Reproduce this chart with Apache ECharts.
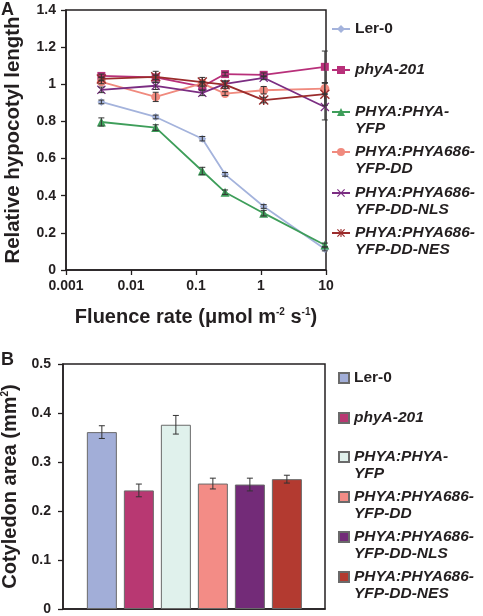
<!DOCTYPE html>
<html><head><meta charset="utf-8">
<script src="https://cdn.jsdelivr.net/npm/echarts@6/dist/echarts.min.js"></script>
<style>html,body{margin:0;padding:0;background:#fff}#c{width:483px;height:616px}</style>
</head><body><div id="c"></div>
<script>
// ---- Panel A data ----
var fluence = [0.0035, 0.024, 0.125, 0.28, 1.1, 9.6];
var seriesNamesA = ['Ler-0', 'phyA-201', 'PHYA:PHYA-YFP', 'PHYA:PHYA686-YFP-DD', 'PHYA:PHYA686-YFP-DD-NLS', 'PHYA:PHYA686-YFP-DD-NES'];
var ler0 = [0.905, 0.824, 0.707, 0.515, 0.342, 0.113];
var phyA201 = [1.045, 1.037, 0.988, 1.055, 1.051, 1.094];
var phyaYfp = [0.797, 0.767, 0.533, 0.419, 0.306, 0.135];
var dd = [1.013, 0.932, 1.005, 0.950, 0.968, 0.977];
var ddNls = [0.970, 0.992, 0.954, 1.002, 1.035, 0.878];
var ddNes = [1.029, 1.040, 1.012, 0.998, 0.915, 0.947];
var ler0Err = [0.01, 0.01, 0.012, 0.01, 0.01, 0.01];
var phyA201Err = [0.01, 0.012, 0.02, 0.01, 0.01, 0.085];
var phyaYfpErr = [0.022, 0.015, 0.02, 0.012, 0.015, 0.01];
var ddErr = [0.01, 0.025, 0.01, 0.01, 0.02, 0.03];
var ddNlsErr = [0.015, 0.02, 0.015, 0.015, 0.01, 0.07];
var ddNesErr = [0.01, 0.03, 0.025, 0.02, 0.015, 0.06];
// ---- Panel B data ----
var genotypes = ['Ler-0', 'phyA-201', 'PHYA:PHYA-YFP', 'PHYA:PHYA686-YFP-DD', 'PHYA:PHYA686-YFP-DD-NLS', 'PHYA:PHYA686-YFP-DD-NES'];
var cotyledonArea = [0.361, 0.242, 0.376, 0.256, 0.254, 0.265];
var cotyledonErr = [0.013, 0.013, 0.019, 0.011, 0.013, 0.008];
// legend labels (with line breaks as in the figure)
var legendLabels = ['Ler-0', 'phyA-201', 'PHYA:PHYA-\nYFP', 'PHYA:PHYA686-\nYFP-DD', 'PHYA:PHYA686-\nYFP-DD-NLS', 'PHYA:PHYA686-\nYFP-DD-NES'];

var FONT = 'Liberation Sans, Arial, sans-serif';
var lineColors = ['#a4b3dc', '#b8307a', '#3e9e5a', '#f08a7e', '#7b2d82', '#9b2c2c'];
var barColors = ['#a2aed8', '#b83872', '#e0f1ec', '#f38c86', '#732b78', '#b33a30'];
var xPath = 'path://M0,1 L1,0 L5,4 L9,0 L10,1 L6,5 L10,9 L9,10 L5,6 L1,10 L0,9 L4,5 Z';
var starPath = 'path://M0,1 L1,0 L5,4 L9,0 L10,1 L6,5 L10,9 L9,10 L5,6 L1,10 L0,9 L4,5 Z M4.3,0 L4.3,10 L5.7,10 L5.7,0 Z';
var symbols = ['diamond', 'rect', 'triangle', 'circle', xPath, starPath];
var symSizes = [8, 8, 9, 9, 9, 10];
var valsA = [ler0, phyA201, phyaYfp, dd, ddNls, ddNes];
var errsA = [ler0Err, phyA201Err, phyaYfpErr, ddErr, ddNlsErr, ddNesErr];

var chart = echarts.init(document.getElementById('c'), null, {renderer: 'canvas'});

var series = [];
var errDataA = [];
for (var s = 0; s < 6; s++) {
  var d = [];
  for (var i = 0; i < fluence.length; i++) {
    d.push([fluence[i], valsA[s][i]]);
    errDataA.push([fluence[i], valsA[s][i] - errsA[s][i], valsA[s][i] + errsA[s][i]]);
  }
  series.push({
    name: seriesNamesA[s], type: 'line', xAxisIndex: 0, yAxisIndex: 0,
    data: d, symbol: symbols[s], symbolSize: symSizes[s], showAllSymbol: true,
    lineStyle: {color: lineColors[s], width: 1.8},
    itemStyle: {color: lineColors[s]}, z: 3 + s, animation: false
  });
}
function errRender(params, api) {
  var x = api.value(0);
  var lo = api.coord([x, api.value(1)]);
  var hi = api.coord([x, api.value(2)]);
  var w = 3;
  var st = {stroke: '#333', lineWidth: 1, fill: null};
  return {type: 'group', children: [
    {type: 'line', shape: {x1: lo[0], y1: lo[1], x2: hi[0], y2: hi[1]}, style: st},
    {type: 'line', shape: {x1: lo[0] - w, y1: lo[1], x2: lo[0] + w, y2: lo[1]}, style: st},
    {type: 'line', shape: {x1: hi[0] - w, y1: hi[1], x2: hi[0] + w, y2: hi[1]}, style: st}
  ]};
}
series.push({type: 'custom', xAxisIndex: 0, yAxisIndex: 0, renderItem: errRender, data: errDataA,
  encode: {x: 0, y: [1, 2]}, z: 20, silent: true, animation: false});

var errDataB = [];
for (var b = 0; b < 6; b++) {
  series.push({
    name: 'B:' + genotypes[b], type: 'bar', xAxisIndex: 1, yAxisIndex: 1,
    data: [[b, cotyledonArea[b]]], barWidth: 30, barGap: '-100%',
    itemStyle: {color: barColors[b], borderColor: '#6a6a6a', borderWidth: 1}, animation: false
  });
  errDataB.push([b, cotyledonArea[b] - cotyledonErr[b], cotyledonArea[b] + cotyledonErr[b]]);
}
series.push({type: 'custom', xAxisIndex: 1, yAxisIndex: 1, renderItem: errRender, data: errDataB,
  encode: {x: 0, y: [1, 2]}, z: 20, silent: true, animation: false});

var centersA = [29, 70, 112, 152, 193, 233];
var centersB = [378, 418, 457, 497, 537, 577];
var legends = [];
for (var k = 0; k < 6; k++) {
  var twoLine = legendLabels[k].indexOf('\n') >= 0;
  var lh = 17;
  (function (k, twoLine) {
    var txt = twoLine ? ' \n' + legendLabels[k] : legendLabels[k];
    var blockH = twoLine ? lh * 3 : lh;
    var ts = {fontFamily: FONT, fontSize: 15.5, fontWeight: 'bold', fontStyle: k === 0 ? 'normal' : 'italic', color: '#231f20', lineHeight: lh};
    legends.push({data: [seriesNamesA[k]], left: 331, top: centersA[k] - blockH / 2, padding: 0,
      itemWidth: 18, itemHeight: 10, formatter: function () { return txt; }, textStyle: ts, selectedMode: false});
    legends.push({data: ['B:' + genotypes[k]], left: 338, top: centersB[k] - blockH / 2, padding: 0,
      icon: 'rect', itemWidth: 10, itemHeight: 10, formatter: function () { return txt; }, textStyle: ts, selectedMode: false});
  })(k, twoLine);
}

var axisLbl = {fontFamily: FONT, fontSize: 14, fontWeight: 'bold', color: '#231f20'};
var axisLn = {onZero: false, lineStyle: {color: '#231f20', width: 1.5}};
var tick = {length: 5, lineStyle: {color: '#231f20', width: 1.3}};
function nameStyle(sz) {
  return {fontFamily: FONT, fontSize: sz, fontWeight: 'bold', color: '#231f20',
    rich: {sup: {fontFamily: FONT, fontSize: 10, fontWeight: 'bold', color: '#231f20', verticalAlign: 'top', lineHeight: 10}}};
}

chart.setOption({
  animation: false,
  grid: [
    {left: 66, top: 10, width: 260, height: 260, show: true, borderColor: '#231f20', borderWidth: 1.5, backgroundColor: 'transparent', outerBoundsMode: 'none', containLabel: false},
    {left: 63, top: 364, width: 262, height: 245, show: true, borderColor: '#231f20', borderWidth: 1.5, backgroundColor: 'transparent', outerBoundsMode: 'none', containLabel: false}
  ],
  xAxis: [
    {type: 'log', logBase: 10, min: 0.001, max: 10, gridIndex: 0,
     name: 'Fluence rate (μmol m{sup|-2} s{sup|-1})', nameLocation: 'middle', nameGap: 37, nameTextStyle: nameStyle(20),
     axisLine: axisLn, axisTick: tick, axisLabel: Object.assign({margin: 9, formatter: function (v) { return String(v); }}, axisLbl),
     splitLine: {show: false}, minorTick: {show: false}},
    {type: 'value', min: -1.05, max: 6.03, gridIndex: 1,
     axisLine: axisLn, axisTick: {show: false},
     axisLabel: {show: false}, splitLine: {show: false}}
  ],
  yAxis: [
    {type: 'value', min: 0, max: 1.4, interval: 0.2, gridIndex: 0,
     name: 'Relative hypocotyl length', nameLocation: 'middle', nameGap: 43, nameTextStyle: nameStyle(20.4),
     axisLine: axisLn, axisTick: tick,
     axisLabel: Object.assign({margin: 10}, axisLbl), splitLine: {show: false}},
    {type: 'value', min: 0, max: 0.5, interval: 0.1, gridIndex: 1,
     name: 'Cotyledon area (mm{sup|2})', nameLocation: 'middle', nameGap: 40, nameTextStyle: nameStyle(20),
     axisLine: axisLn, axisTick: tick,
     axisLabel: Object.assign({margin: 12}, axisLbl), splitLine: {show: false}}
  ],
  legend: legends,
  graphic: [
    {type: 'text', left: 1, top: 1, style: {text: 'A', fontFamily: FONT, fontSize: 18, fontWeight: 'bold', fill: '#231f20'}},
    {type: 'text', left: 1, top: 351, style: {text: 'B', fontFamily: FONT, fontSize: 18, fontWeight: 'bold', fill: '#231f20'}}
  ],
  series: series
});
</script>
</body></html>
